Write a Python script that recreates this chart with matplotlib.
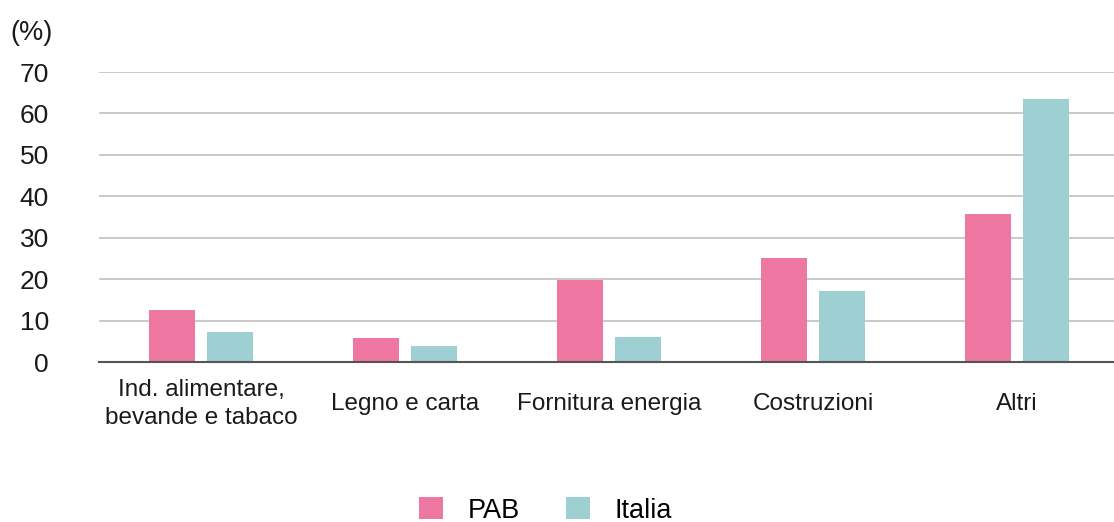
import numpy as np
import matplotlib.pyplot as plt

# data
categories = ["Ind. alimentare,\nbevande e tabaco", "Legno e carta",
              "Fornitura energia", "Costruzioni", "Altri"]
pab = [12.6, 5.8, 19.7, 25.0, 35.7]
italia = [7.2, 3.9, 6.1, 17.2, 63.5]

plt.rcParams['font.family'] = ['Liberation Sans', 'DejaVu Sans']

fig = plt.figure(figsize=(11.14, 5.22), dpi=100)
ax = fig.add_axes([99 / 1114, 1 - 362 / 522, 1020 / 1114, (362 - 72) / 522])

x = np.arange(len(categories))
w = 0.227
ax.bar(x - 0.143, pab, w, color="#EE77A1", label="PAB", zorder=3)
ax.bar(x + 0.143, italia, w, color="#9ECFD3", label="Italia", zorder=3)

ax.set_xlim(-0.5, 4.5)
ax.set_ylim(0, 70)
ax.set_yticks(range(0, 71, 10))
ax.yaxis.grid(True, color="#c0c0c0", linewidth=1.2, zorder=0)
ax.set_axisbelow(True)
for s in ["top", "right", "left"]:
    ax.spines[s].set_visible(False)
ax.spines["bottom"].set_color("#555555")
ax.spines["bottom"].set_linewidth(1.5)
ax.spines["bottom"].set_zorder(4)

ax.set_xticks(x)
ax.set_xticklabels(categories, fontsize=17.5, linespacing=1.35, color="#1a1a1a")
for lbl in ax.get_xticklabels():
    lbl.set_verticalalignment("center")
ax.tick_params(axis="x", length=0, pad=30)
ax.tick_params(axis="y", length=0, pad=36, labelsize=19, labelcolor="#1a1a1a")

fig.text(10 / 1114, 1 - 40 / 522, "(%)", fontsize=19.5, color="#1a1a1a")

fig.legend(loc="lower center", bbox_to_anchor=(0.49, -0.05), ncol=2, frameon=False,
           fontsize=19.5, handlelength=0.88, handleheight=0.88, columnspacing=1.7,
           handletextpad=0.92)

plt.savefig("out.png", dpi=100)
